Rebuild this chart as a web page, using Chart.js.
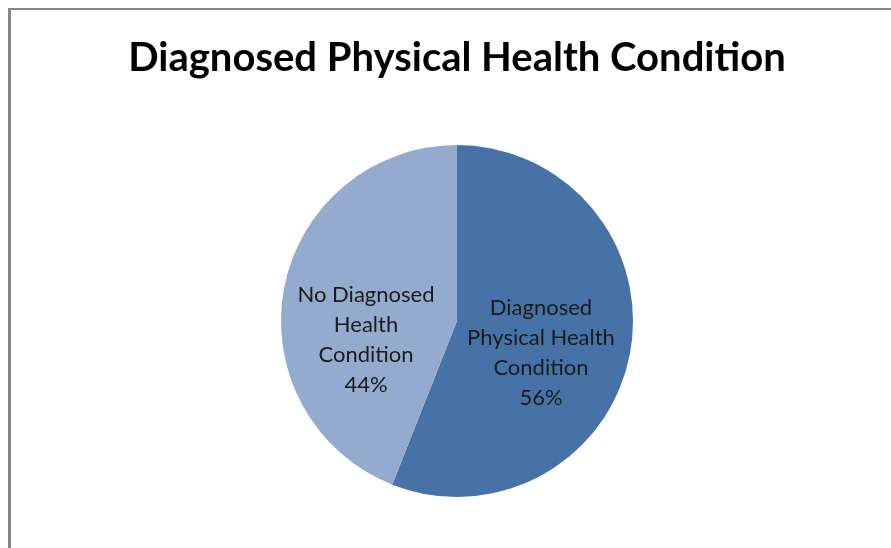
<!DOCTYPE html>
<html>
<head>
<meta charset="utf-8">
<script src="https://cdn.jsdelivr.net/npm/chart.js@4.4.1/dist/chart.umd.min.js"></script>
<style>
  html, body { margin: 0; padding: 0; background: #fff; }
  #wrap { width: 891px; height: 548px; position: relative; }
</style>
</head>
<body>
<div id="wrap"><canvas id="healthChart" width="891" height="548"></canvas></div>
<script>
const categories = [
    ['Diagnosed', 'Physical Health', 'Condition'],
    ['No Diagnosed', 'Health', 'Condition']
];
const percentages = [56, 44];
const sliceColors = ['#4672a7', '#94aacf'];

// frame line along the top and left edge, plus white background
const framePlugin = {
    id: 'frame',
    beforeDraw(chart) {
        const c = chart.ctx;
        c.save();
        c.fillStyle = '#fff';
        c.fillRect(0, 0, chart.width, chart.height);
        c.fillStyle = '#878787';
        c.fillRect(8, 8, chart.width - 8, 2);
        c.fillRect(8, 8, 3, chart.height - 8);
        c.restore();
    }
};

// category name + percentage drawn inside each slice
const sliceLabels = {
    id: 'sliceLabels',
    afterDatasetsDraw(chart, args, opts) {
        const c = chart.ctx;
        const meta = chart.getDatasetMeta(0);
        c.save();
        c.font = opts.font;
        c.fillStyle = opts.color;
        c.textAlign = 'center';
        c.textBaseline = 'middle';
        meta.data.forEach((arc, i) => {
            const r = arc.outerRadius;
            const off = opts.offsets[i];
            const cx = arc.x + off[0] * r;
            const cy = arc.y + off[1] * r;
            const lines = categories[i].concat([percentages[i] + '%']);
            const top = cy - (lines.length - 1) * opts.lineHeight / 2;
            lines.forEach((line, k) => c.fillText(line, cx, top + k * opts.lineHeight));
        });
        c.restore();
    }
};

const ctx = document.getElementById('healthChart').getContext('2d');

let healthChart = new Chart(ctx, {
    type: 'pie',
    data: {
        labels: categories.map(l => l.join(' ')),
        datasets: [{
            data: percentages,
            backgroundColor: sliceColors,
            borderWidth: 0
        }]
    },
    options: {
        responsive: false,
        animation: false,
        layout: {
            padding: { left: 23, right: 0, top: 0, bottom: 51 }
        },
        plugins: {
            legend: { display: false },
            tooltip: { enabled: false },
            title: {
                display: true,
                text: 'Diagnosed Physical Health Condition',
                color: '#000',
                font: { family: 'Lato', size: 40, weight: 'bold', lineHeight: 1.2 },
                padding: { top: 34, bottom: 63 }
            },
            sliceLabels: {
                font: '22px Lato',
                color: '#1a1a1a',
                lineHeight: 30,
                offsets: [[0.477, 0.182], [-0.517, 0.108]]
            }
        }
    },
    plugins: [framePlugin, sliceLabels]
});
</script>
</body>
</html>
